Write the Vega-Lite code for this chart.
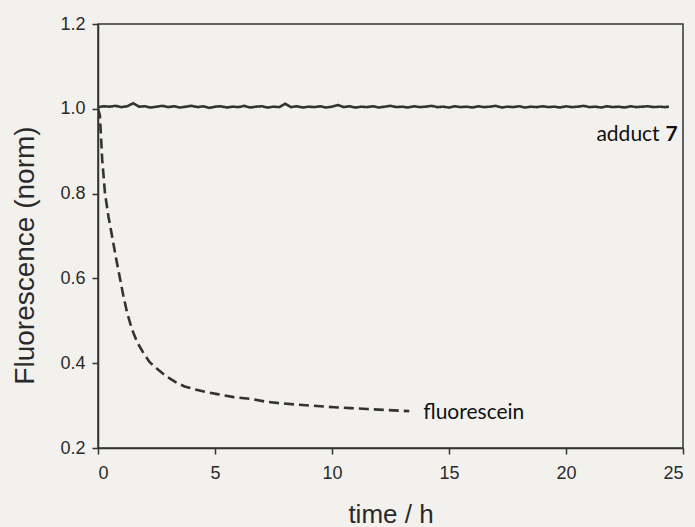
{
  "$schema": "https://vega.github.io/schema/vega-lite/v6.json",
  "width": 585,
  "height": 424,
  "autosize": {"type": "none"},
  "padding": {"left": 98, "top": 24, "right": 12, "bottom": 79},
  "background": "#f3f1ed",
  "config": {
    "view": {"stroke": "#333333", "strokeWidth": 1.5},
    "axis": {
      "grid": false,
      "domainColor": "#333333",
      "domainWidth": 1.5,
      "tickColor": "#333333",
      "tickWidth": 1.5,
      "tickSize": 6,
      "labelFont": "Liberation Sans",
      "labelFontSize": 18,
      "labelColor": "#2a2a2a",
      "titleFont": "Liberation Sans",
      "titleFontWeight": "normal",
      "titleColor": "#2a2a2a"
    }
  },
  "datasets": {
    "curves": [
      {"series": "adduct", "t": 0, "v": 1.004},
      {"series": "adduct", "t": 0.25, "v": 1.006},
      {"series": "adduct", "t": 0.5, "v": 1.005},
      {"series": "adduct", "t": 0.75, "v": 1.007},
      {"series": "adduct", "t": 1, "v": 1.004},
      {"series": "adduct", "t": 1.25, "v": 1.006},
      {"series": "adduct", "t": 1.5, "v": 1.013},
      {"series": "adduct", "t": 1.75, "v": 1.005},
      {"series": "adduct", "t": 2, "v": 1.006},
      {"series": "adduct", "t": 2.25, "v": 1.003},
      {"series": "adduct", "t": 2.5, "v": 1.005},
      {"series": "adduct", "t": 2.75, "v": 1.007},
      {"series": "adduct", "t": 3, "v": 1.004},
      {"series": "adduct", "t": 3.25, "v": 1.006},
      {"series": "adduct", "t": 3.5, "v": 1.003},
      {"series": "adduct", "t": 3.75, "v": 1.005},
      {"series": "adduct", "t": 4, "v": 1.007},
      {"series": "adduct", "t": 4.25, "v": 1.004},
      {"series": "adduct", "t": 4.5, "v": 1.006},
      {"series": "adduct", "t": 4.75, "v": 1.002},
      {"series": "adduct", "t": 5, "v": 1.005},
      {"series": "adduct", "t": 5.25, "v": 1.006},
      {"series": "adduct", "t": 5.5, "v": 1.003},
      {"series": "adduct", "t": 5.75, "v": 1.005},
      {"series": "adduct", "t": 6, "v": 1.004},
      {"series": "adduct", "t": 6.25, "v": 1.007},
      {"series": "adduct", "t": 6.5, "v": 1.003},
      {"series": "adduct", "t": 6.75, "v": 1.005},
      {"series": "adduct", "t": 7, "v": 1.006},
      {"series": "adduct", "t": 7.25, "v": 1.003},
      {"series": "adduct", "t": 7.5, "v": 1.005},
      {"series": "adduct", "t": 7.75, "v": 1.004},
      {"series": "adduct", "t": 8, "v": 1.012},
      {"series": "adduct", "t": 8.25, "v": 1.004},
      {"series": "adduct", "t": 8.5, "v": 1.006},
      {"series": "adduct", "t": 8.75, "v": 1.003},
      {"series": "adduct", "t": 9, "v": 1.005},
      {"series": "adduct", "t": 9.25, "v": 1.004},
      {"series": "adduct", "t": 9.5, "v": 1.006},
      {"series": "adduct", "t": 9.75, "v": 1.003},
      {"series": "adduct", "t": 10, "v": 1.005},
      {"series": "adduct", "t": 10.25, "v": 1.009},
      {"series": "adduct", "t": 10.5, "v": 1.004},
      {"series": "adduct", "t": 10.75, "v": 1.006},
      {"series": "adduct", "t": 11, "v": 1.003},
      {"series": "adduct", "t": 11.25, "v": 1.005},
      {"series": "adduct", "t": 11.5, "v": 1.004},
      {"series": "adduct", "t": 11.75, "v": 1.006},
      {"series": "adduct", "t": 12, "v": 1.003},
      {"series": "adduct", "t": 12.25, "v": 1.005},
      {"series": "adduct", "t": 12.5, "v": 1.007},
      {"series": "adduct", "t": 12.75, "v": 1.004},
      {"series": "adduct", "t": 13, "v": 1.005},
      {"series": "adduct", "t": 13.25, "v": 1.003},
      {"series": "adduct", "t": 13.5, "v": 1.006},
      {"series": "adduct", "t": 13.75, "v": 1.004},
      {"series": "adduct", "t": 14, "v": 1.005},
      {"series": "adduct", "t": 14.25, "v": 1.007},
      {"series": "adduct", "t": 14.5, "v": 1.004},
      {"series": "adduct", "t": 14.75, "v": 1.005},
      {"series": "adduct", "t": 15, "v": 1.003},
      {"series": "adduct", "t": 15.25, "v": 1.006},
      {"series": "adduct", "t": 15.5, "v": 1.004},
      {"series": "adduct", "t": 15.75, "v": 1.005},
      {"series": "adduct", "t": 16, "v": 1.003},
      {"series": "adduct", "t": 16.25, "v": 1.006},
      {"series": "adduct", "t": 16.5, "v": 1.004},
      {"series": "adduct", "t": 16.75, "v": 1.005},
      {"series": "adduct", "t": 17, "v": 1.007},
      {"series": "adduct", "t": 17.25, "v": 1.003},
      {"series": "adduct", "t": 17.5, "v": 1.005},
      {"series": "adduct", "t": 17.75, "v": 1.004},
      {"series": "adduct", "t": 18, "v": 1.006},
      {"series": "adduct", "t": 18.25, "v": 1.003},
      {"series": "adduct", "t": 18.5, "v": 1.005},
      {"series": "adduct", "t": 18.75, "v": 1.004},
      {"series": "adduct", "t": 19, "v": 1.006},
      {"series": "adduct", "t": 19.25, "v": 1.004},
      {"series": "adduct", "t": 19.5, "v": 1.005},
      {"series": "adduct", "t": 19.75, "v": 1.003},
      {"series": "adduct", "t": 20, "v": 1.006},
      {"series": "adduct", "t": 20.25, "v": 1.004},
      {"series": "adduct", "t": 20.5, "v": 1.005},
      {"series": "adduct", "t": 20.75, "v": 1.007},
      {"series": "adduct", "t": 21, "v": 1.004},
      {"series": "adduct", "t": 21.25, "v": 1.005},
      {"series": "adduct", "t": 21.5, "v": 1.003},
      {"series": "adduct", "t": 21.75, "v": 1.006},
      {"series": "adduct", "t": 22, "v": 1.004},
      {"series": "adduct", "t": 22.25, "v": 1.005},
      {"series": "adduct", "t": 22.5, "v": 1.003},
      {"series": "adduct", "t": 22.75, "v": 1.006},
      {"series": "adduct", "t": 23, "v": 1.004},
      {"series": "adduct", "t": 23.25, "v": 1.005},
      {"series": "adduct", "t": 23.5, "v": 1.006},
      {"series": "adduct", "t": 23.75, "v": 1.004},
      {"series": "adduct", "t": 24, "v": 1.005},
      {"series": "adduct", "t": 24.25, "v": 1.004},
      {"series": "adduct", "t": 24.4, "v": 1.005},
      {"series": "fluorescein", "t": 0, "v": 1.0},
      {"series": "fluorescein", "t": 0.08, "v": 0.985},
      {"series": "fluorescein", "t": 0.18, "v": 0.88},
      {"series": "fluorescein", "t": 0.3, "v": 0.8},
      {"series": "fluorescein", "t": 0.45, "v": 0.745},
      {"series": "fluorescein", "t": 0.6, "v": 0.7},
      {"series": "fluorescein", "t": 0.78, "v": 0.645},
      {"series": "fluorescein", "t": 0.94, "v": 0.6},
      {"series": "fluorescein", "t": 1.08, "v": 0.56},
      {"series": "fluorescein", "t": 1.24, "v": 0.52},
      {"series": "fluorescein", "t": 1.45, "v": 0.48},
      {"series": "fluorescein", "t": 1.67, "v": 0.45},
      {"series": "fluorescein", "t": 1.92, "v": 0.426},
      {"series": "fluorescein", "t": 2.2, "v": 0.403},
      {"series": "fluorescein", "t": 2.5, "v": 0.388},
      {"series": "fluorescein", "t": 2.9, "v": 0.37},
      {"series": "fluorescein", "t": 3.3, "v": 0.356},
      {"series": "fluorescein", "t": 3.7, "v": 0.345},
      {"series": "fluorescein", "t": 4.1, "v": 0.339},
      {"series": "fluorescein", "t": 4.6, "v": 0.332},
      {"series": "fluorescein", "t": 5.1, "v": 0.327},
      {"series": "fluorescein", "t": 5.8, "v": 0.32},
      {"series": "fluorescein", "t": 6.5, "v": 0.316},
      {"series": "fluorescein", "t": 7.2, "v": 0.309},
      {"series": "fluorescein", "t": 7.9, "v": 0.305},
      {"series": "fluorescein", "t": 8.6, "v": 0.302},
      {"series": "fluorescein", "t": 9.35, "v": 0.299},
      {"series": "fluorescein", "t": 10.1, "v": 0.296},
      {"series": "fluorescein", "t": 10.8, "v": 0.294},
      {"series": "fluorescein", "t": 11.5, "v": 0.292},
      {"series": "fluorescein", "t": 12.2, "v": 0.29},
      {"series": "fluorescein", "t": 13.3, "v": 0.287}
    ],
    "labels": [
      {"label": "adduct", "t": 21.3, "v": 0.938, "bold": false},
      {"label": "7", "t": 24.25, "v": 0.938, "bold": true},
      {"label": "fluorescein", "t": 13.9, "v": 0.283, "bold": false}
    ]
  },
  "layer": [
    {
      "data": {"name": "curves"},
      "mark": {"type": "line", "color": "#333333", "strokeWidth": 2.6, "clip": true},
      "encoding": {
        "x": {
          "field": "t", "type": "quantitative",
          "scale": {"domain": [0, 25], "nice": false, "zero": false},
          "axis": {
            "values": [0, 5, 10, 15, 20, 25],
            "title": "time / h",
            "titleFontSize": 26,
            "titleBaseline": "alphabetic",
            "titleY": 74,
            "labelPadding": 10
          }
        },
        "y": {
          "field": "v", "type": "quantitative",
          "scale": {"domain": [0.2, 1.2], "nice": false, "zero": false},
          "axis": {
            "values": [0.2, 0.4, 0.6, 0.8, 1.0, 1.2],
            "format": ".1f",
            "title": "Fluorescence (norm)",
            "titleFontSize": 28,
            "titleAngle": -90,
            "titleAlign": "center",
            "titleBaseline": "middle",
            "titleX": -73,
            "titleY": 231,
            "labelPadding": 7
          }
        },
        "detail": {"field": "series"},
        "strokeDash": {
          "field": "series", "type": "nominal",
          "scale": {"domain": ["adduct", "fluorescein"], "range": [[1, 0], [10, 5]]},
          "legend": null
        }
      }
    },
    {
      "data": {"name": "labels"},
      "transform": [{"filter": "!datum.bold"}],
      "mark": {"type": "text", "font": "Lato", "fontSize": 21, "align": "left", "baseline": "middle", "color": "#111111"},
      "encoding": {
        "x": {"field": "t", "type": "quantitative"},
        "y": {"field": "v", "type": "quantitative"},
        "text": {"field": "label"}
      }
    },
    {
      "data": {"name": "labels"},
      "transform": [{"filter": "datum.bold"}],
      "mark": {"type": "text", "font": "Lato", "fontSize": 21, "fontWeight": "bold", "align": "left", "baseline": "middle", "color": "#111111"},
      "encoding": {
        "x": {"field": "t", "type": "quantitative"},
        "y": {"field": "v", "type": "quantitative"},
        "text": {"field": "label"}
      }
    }
  ]
}
